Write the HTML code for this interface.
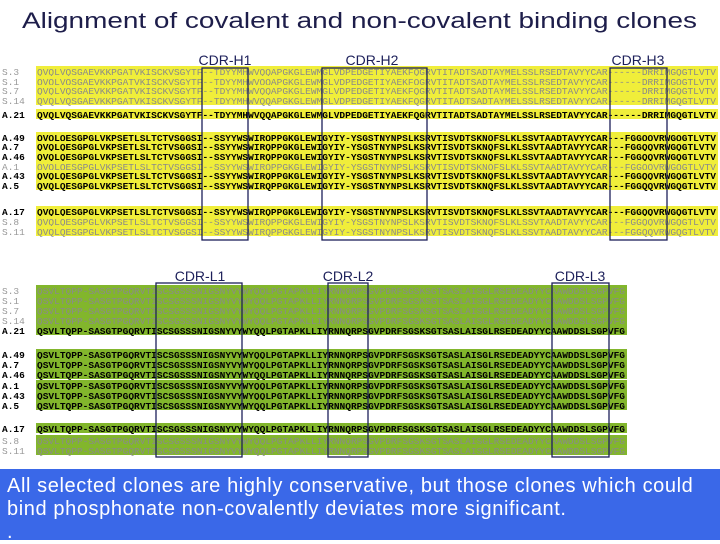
<!DOCTYPE html>
<html><head><meta charset="utf-8">
<style>
body{margin:0;width:720px;height:540px;overflow:hidden;background:#fff;font-family:"Liberation Sans",sans-serif;}
svg{position:absolute;left:0;top:0}
#note{position:absolute;left:0;top:469px;width:720px;height:71px;background:#3a68e8;color:#fff;font-size:20px;line-height:23px;padding:6px 0 0 7px;box-sizing:border-box;letter-spacing:0.6px;white-space:nowrap;}
</style></head><body>
<svg width="720" height="470">
<text x="22" y="28" font-size="22" fill="#1d1d4a" textLength="675" lengthAdjust="spacingAndGlyphs">Alignment of covalent and non-covalent binding clones</text>
<g id="rows"></g>
<g fill="none" stroke="#1c1f5a" stroke-width="1.3">
<rect x="202" y="68" width="46" height="172"/>
<rect x="322" y="68" width="105" height="172"/>
<rect x="610" y="68" width="57" height="172"/>
<rect x="156" y="283" width="86" height="174"/>
<rect x="328" y="283" width="40" height="174"/>
<rect x="552" y="283" width="57" height="174"/>
</g>
<g font-size="14" fill="#1c1f5a">
<text x="225" y="65" text-anchor="middle">CDR-H1</text>
<text x="372" y="65" text-anchor="middle">CDR-H2</text>
<text x="638" y="65" text-anchor="middle">CDR-H3</text>
<text x="200" y="281" text-anchor="middle">CDR-L1</text>
<text x="348" y="281" text-anchor="middle">CDR-L2</text>
<text x="580" y="281" text-anchor="middle">CDR-L3</text>
</g>
</svg>
<div id="note">All selected clones are highly conservative, but those clones which could<br>bind phosphonate non-covalently deviates more significant.<br>.</div>
<script>
const H="QVQLVQSGAEVKKPGATVKISCKVSGYTF--TDYYMHWVQQAPGKGLEWMGLVDPEDGETIYAEKFQGRVTITADTSADTAYMELSSLRSEDTAVYYCAR------DRRIMGQGTLVTV";
const H2="QVQLQESGPGLVKPSETLSLTCTVSGGSI--SSYYWSWIRQPPGKGLEWIGYIY-YSGSTNYNPSLKSRVTISVDTSKNQFSLKLSSVTAADTAVYYCAR---FGGQQVRWGQGTLVTV";
const L="QSVLTQPP-SASGTPGQRVTISCSGSSSNIGSNYVYWYQQLPGTAPKLLIYRNNQRPSGVPDRFSGSKSGTSASLAISGLRSEDEADYYCAAWDDSLSGPVFG";
const heavyLabels=["S.3","S.1","S.7","S.14","A.21","A.49","A.7","A.46","A.1","A.43","A.5","A.17","S.8","S.11"];
const heavyY=[73,83,92,102,116,139,148,158,168,177,187,213,223,233];
const heavyBold=[0,0,0,0,1,1,1,1,0,1,1,1,0,0];
const lightLabels=["S.3","S.1","S.7","S.14","A.21","A.49","A.7","A.46","A.1","A.43","A.5","A.17","S.8","S.11"];
const lightY=[292,302,312,322,332,356,366,376,387,397,407,430,442,452];
const lightBold=[0,0,0,0,1,1,1,1,1,1,1,1,0,0];
const g=document.getElementById('rows');
const NS="http://www.w3.org/2000/svg";
function mk(t,a){const e=document.createElementNS(NS,t);for(const k in a)e.setAttribute(k,a[k]);g.appendChild(e);return e;}
function draw(labels,ys,bold,seq,x1,color,kind){
 labels.forEach((lab,i)=>{
  const r=mk('rect',{x:36,y:ys[i]-7,width:x1-36,height:10,fill:color});
  
  
  const l=mk('text',{x:2,y:ys[i]+2,'font-size':9.5,'font-family':'Liberation Mono,monospace',fill:bold[i]?'#000':'#999','font-weight':bold[i]?'bold':'normal'});
  l.textContent=lab;
  
  
  const s=mk('text',{x:37,y:ys[i]+2,'font-size':9.5,'font-family':'Liberation Mono,monospace',fill:bold[i]?'#000':'#8a8a8a','font-weight':bold[i]?'bold':'normal',textLength:x1-39,lengthAdjust:'spacingAndGlyphs'});
  s.textContent=(kind==='heavy'&&i>4)?H2:seq;
  
  
 });
}
draw(heavyLabels,heavyY,heavyBold,H,718,'#f0ee3a','heavy');
draw(lightLabels,lightY,lightBold,L,627,'#82b62c','light');
</script>
</body></html>
